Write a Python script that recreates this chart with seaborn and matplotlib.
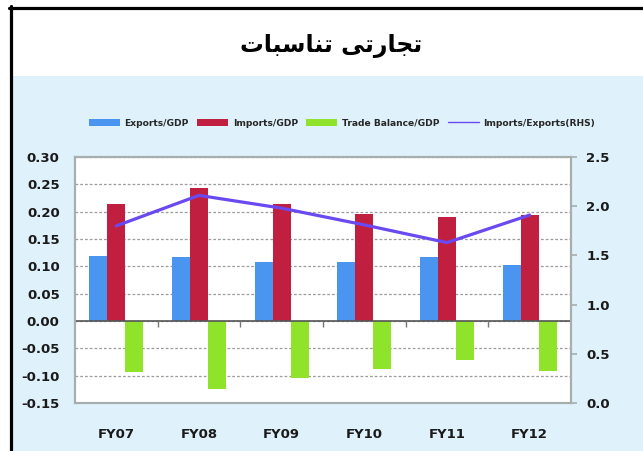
import numpy as np
import pandas as pd
import matplotlib
matplotlib.use("Agg")
import matplotlib.pyplot as plt
import seaborn as sns
from matplotlib.patches import Rectangle, Patch
from matplotlib.lines import Line2D

# ---------------- data ----------------
years = ["FY07", "FY08", "FY09", "FY10", "FY11", "FY12"]
exports_gdp = [0.119, 0.117, 0.108, 0.108, 0.117, 0.102]
imports_gdp = [0.214, 0.244, 0.214, 0.196, 0.191, 0.194]
trade_balance_gdp = [-0.094, -0.125, -0.105, -0.088, -0.072, -0.092]
imports_exports_rhs = [1.80, 2.11, 1.98, 1.81, 1.63, 1.91]
series_names = ["Exports/GDP", "Imports/GDP", "Trade Balance/GDP"]
line_name = "Imports/Exports(RHS)"
left_ticks = [-0.15, -0.10, -0.05, 0.00, 0.05, 0.10, 0.15, 0.20, 0.25, 0.30]
right_ticks = [0.0, 0.5, 1.0, 1.5, 2.0, 2.5]
# Urdu title "تجارتی تناسبات" in shaped (presentation) forms, visual order
title = "\uFE95\uFE8E\uFE92\uFEB3\uFE8E\uFEE8\uFE97 \uFBFD\uFE97\uFEAD\uFE8E\uFEA0\uFE97"

colors = ["#4a95f0", "#c01f3f", "#8fe32a"]
line_color = "#6a4af0"

# ---------------- figure ----------------
sns.set_theme(style="white")
plt.rcParams["font.family"] = ["DejaVu Sans"]

W, H = 643, 451
fig = plt.figure(figsize=(W / 100, H / 100), dpi=100)
fig.patch.set_facecolor("white")

# light blue panel and black frame lines
fig.add_artist(Rectangle((12 / W, 0), 1 - 12 / W, 1 - 76 / H,
                         transform=fig.transFigure, facecolor="#dff1fa",
                         edgecolor="none", zorder=0))
fig.add_artist(Line2D([10.5 / W, 10.5 / W], [0, 1 - 6 / H],
                      transform=fig.transFigure, color="black", lw=2.3))
fig.add_artist(Line2D([9 / W, 1], [1 - 7.5 / H, 1 - 7.5 / H],
                      transform=fig.transFigure, color="black", lw=2.3))

fig.text(331 / W, 1 - 46 / H, title, ha="center", va="center",
         fontsize=17, fontweight="bold", color="black")

ax = fig.add_axes([75 / W, 1 - 403 / H, (571 - 75) / W, (403 - 157) / H])
ax.set_facecolor("white")

df = pd.DataFrame({
    "year": years * 3,
    "series": [s for s in series_names for _ in years],
    "value": exports_gdp + imports_gdp + trade_balance_gdp,
})
sns.barplot(data=df, x="year", y="value", hue="series", hue_order=series_names,
            order=years, palette=colors, width=0.65, gap=0, saturation=1,
            legend=False, ax=ax, zorder=3, linewidth=0, edgecolor="none")

ax.set_ylim(-0.15, 0.30)
ax.set_xlim(-0.5, len(years) - 0.5)
ax.set_yticks(left_ticks)
ax.set_yticklabels([f"{t:.2f}" for t in left_ticks], fontweight="bold")
ax.set_xticks(range(len(years)))
ax.set_xticklabels(years, fontweight="bold")
ax.set_xlabel("")
ax.set_ylabel("")
ax.yaxis.grid(True, linestyle=(0, (2.2, 1.6)), color="#9c9c9c", lw=0.9, zorder=0)
ax.set_axisbelow(True)
ax.axhline(0, color="#555555", lw=1.2, zorder=4)
ax.vlines(np.arange(0.5, len(years) - 0.5, 1), -0.011, 0, color="#777777",
          lw=1, zorder=4)
ax.tick_params(axis="x", length=0, pad=18, labelsize=9.5, colors="#1a1a1a")
ax.tick_params(axis="y", length=0, pad=11, labelsize=9.5, colors="#1a1a1a")
for sp in ax.spines.values():
    sp.set_color("#a7aeae")
    sp.set_linewidth(1.5)

ax2 = ax.twinx()
sns.lineplot(x=np.arange(len(years)), y=imports_exports_rhs, ax=ax2,
             color=line_color, lw=2.3, zorder=5)
ax2.set_ylim(0, 2.5)
ax2.set_yticks(right_ticks)
ax2.set_yticklabels([f"{t:.1f}" for t in right_ticks], fontweight="bold")
ax2.tick_params(axis="y", direction="out", length=4, width=1.2,
                color="#a7aeae", pad=7, labelsize=9.5, labelcolor="#1a1a1a")
ax2.set_xlim(-0.5, len(years) - 0.5)
ax2.grid(False)
for sp in ax2.spines.values():
    sp.set_color("#a7aeae")
    sp.set_linewidth(1.5)

handles = [Patch(facecolor=c, edgecolor="none") for c in colors]
handles.append(Line2D([0], [0], color=line_color, lw=1))
fig.legend(handles, series_names + [line_name], loc="center",
           bbox_to_anchor=(342 / W, 1 - 123 / H), ncol=4, frameon=False,
           handlelength=3.4, handleheight=0.7,
           columnspacing=0.9, handletextpad=0.5,
           prop={"size": 6.6, "weight": "bold"})

fig.savefig("out.png", dpi=100)
